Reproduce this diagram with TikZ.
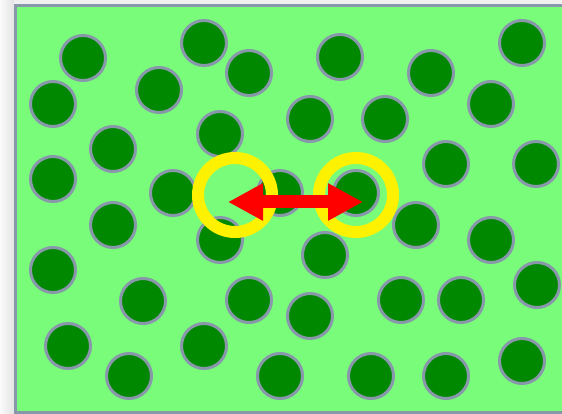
\documentclass[tikz,border=0pt]{standalone}
\usepackage{xcolor}
\usepackage{tikz}
\usetikzlibrary{arrows.meta}

\definecolor{fieldgreen}{RGB}{120,252,122}
\definecolor{discgreen}{RGB}{0,136,0}
\definecolor{rimgray}{RGB}{136,152,170}

\begin{document}
\begin{tikzpicture}[
    x=1pt, y=-1pt,
    disc/.style={circle, draw=rimgray, fill=discgreen, line width=3pt, minimum size=45pt, inner sep=0pt},
    ring/.style={circle, draw=yellow, line width=12pt, minimum size=74pt, inner sep=0pt},
    arrow/.style={{Triangle[length=35pt,width=35pt]}-{Triangle[length=35pt,width=35pt]}, draw=red, fill=red, line width=13pt}
]
    \useasboundingbox (0,0) rectangle (562,414);
    \fill[gray!12] (0,0) rectangle (562,414);
    \shade[left color=gray!4, right color=gray!22] (0,0) rectangle (14,414);
    \begin{scope}
        \clip (0,0) rectangle (562,414);
        \draw[rimgray, fill=fieldgreen, line width=3pt] (15.5,5.5) rectangle (575,412.5);
    \end{scope}

    \node[disc] (p1) at (83,58) {};
    \node[disc] (p2) at (204,43) {};
    \node[disc] (p3) at (249,73) {};
    \node[disc] (p4) at (340,57) {};
    \node[disc] (p5) at (431,73) {};
    \node[disc] (p6) at (522,43) {};
    \node[disc] (p7) at (53,104) {};
    \node[disc] (p8) at (159,90) {};
    \node[disc] (p9) at (220,134) {};
    \node[disc] (p10) at (310,119) {};
    \node[disc] (p11) at (385,119) {};
    \node[disc] (p12) at (491,104) {};
    \node[disc] (p13) at (113,149) {};
    \node[disc] (p14) at (53,179) {};
    \node[disc] (p15) at (173,193) {};
    \node[disc] (p16) at (280,193) {};
    \node[disc] (p17) at (356,193) {};
    \node[disc] (p18) at (446,164) {};
    \node[disc] (p19) at (536,164) {};
    \node[disc] (p20) at (113,225) {};
    \node[disc] (p21) at (220,240) {};
    \node[disc] (p22) at (325,255) {};
    \node[disc] (p23) at (416,225) {};
    \node[disc] (p24) at (491,240) {};
    \node[disc] (p25) at (53,270) {};
    \node[disc] (p26) at (143,301) {};
    \node[disc] (p27) at (249,300) {};
    \node[disc] (p28) at (310,316) {};
    \node[disc] (p29) at (401,300) {};
    \node[disc] (p30) at (461,300) {};
    \node[disc] (p31) at (537,285) {};
    \node[disc] (p32) at (68,346) {};
    \node[disc] (p33) at (129,376) {};
    \node[disc] (p34) at (204,346) {};
    \node[disc] (p35) at (280,376) {};
    \node[disc] (p36) at (371,376) {};
    \node[disc] (p37) at (446,376) {};
    \node[disc] (p38) at (522,361) {};

    \node[ring] (left) at (235,195) {};
    \node[ring] (right) at (356,195) {};

    \coordinate (tipL) at (228,202);
    \coordinate (tipR) at (363,202);
    \draw[arrow] (tipL) -- (tipR);
\end{tikzpicture}
\end{document}
